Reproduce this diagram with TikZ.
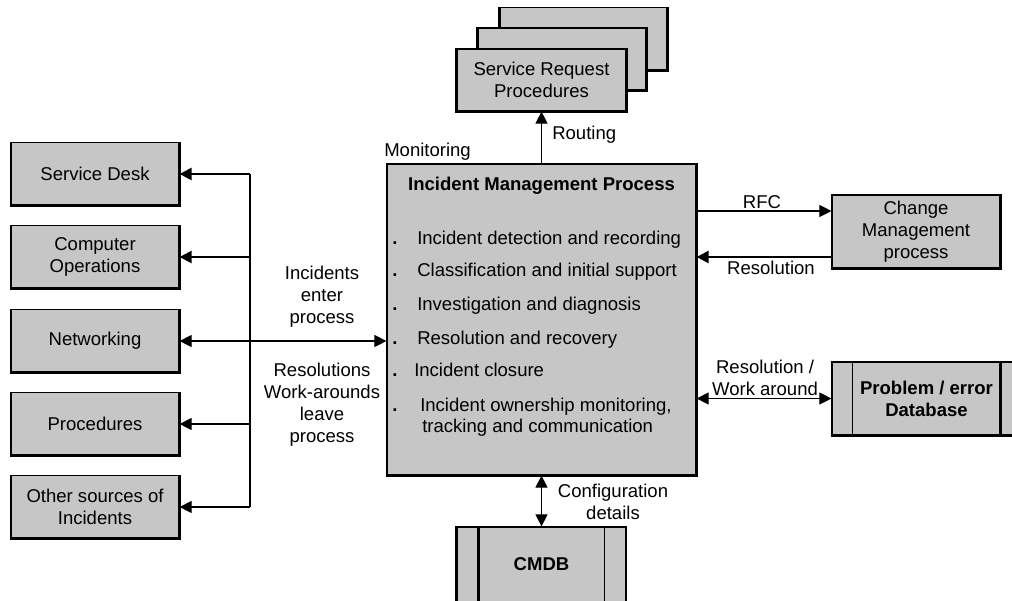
\documentclass[tikz,border=0pt]{standalone}
\usepackage{fontspec}
\setmainfont{Liberation Sans}
\usetikzlibrary{arrows.meta,calc}
\definecolor{boxgray}{RGB}{198,198,198}
\newcommand{\rbedge}[1]{\draw[edge] (#1.north east) -- (#1.south east) -- (#1.south west);}
\newcommand{\lbedge}[1]{\draw[edge] (#1.north west) -- (#1.south west) -- (#1.south east) -- (#1.north east);}
\begin{document}
\begin{tikzpicture}[x=0.75pt,y=-0.75pt,
  every node/.style={font=\fontsize{13.9}{16.5}\selectfont, inner sep=0pt},
  gbox/.style={draw, fill=boxgray, line width=0.9pt, align=center},
  edge/.style={line width=2.2pt},
  lbl/.style={align=center},
  itm/.style={anchor=west, text height=10pt, text depth=3pt},
  conn/.style={line width=0.8pt},
  bold/.style={line width=1.8pt},
  tip/.style={-{Triangle[length=9pt,width=9pt]}},
  dtip/.style={{Triangle[length=9pt,width=9pt]}-{Triangle[length=9pt,width=9pt]}}
]
\useasboundingbox (0,0) rectangle (1012,600);
\clip (0,0) rectangle (1012,600);

% left boxes
\node[gbox, minimum width=126pt, minimum height=47pt] (sd) at (95,174) {Service Desk};
\node[gbox, minimum width=126pt, minimum height=47pt] (co) at (95,257) {Computer\\Operations};
\node[gbox, minimum width=126pt, minimum height=47pt] (net) at (95,341) {Networking};
\node[gbox, minimum width=126pt, minimum height=47pt] (proc) at (95,424) {Procedures};
\node[gbox, minimum width=126pt, minimum height=47pt] (oth) at (95,507) {Other sources of\\Incidents};
\foreach \n in {sd,co,net,proc,oth} {\rbedge{\n}}

% service request stack
\node[gbox, minimum width=125pt, minimum height=47pt] (srp3) at (583.5,38.5) {};
\lbedge{srp3}
\node[gbox, minimum width=126pt, minimum height=46.5pt] (srp2) at (562,59) {};
\lbedge{srp2}
\node[gbox, minimum width=126.75pt, minimum height=46.5pt] (srp1) at (541.5,80) {Service Request\\Procedures};
\lbedge{srp1}

% main box
\node[gbox, minimum width=231.75pt, minimum height=233.25pt] (main) at (541.5,319.5) {};
\rbedge{main}
\node (title) at (541.5,186) {\bfseries Incident Management Process};
\foreach \y/\xx/\t [count=\i] in {
  240/417/{Incident detection and recording},
  272/417/{Classification and initial support},
  306/417/{Investigation and diagnosis},
  340/417/{Resolution and recovery},
  372/414/{Incident closure},
  407/420/{Incident ownership monitoring,}}{
  \node[itm] (b\i) at (392,\y) {\bfseries .};
  \node[itm] (t\i) at (\xx,\y) {\t};
}
\node[itm] (t7) at (422,428) {tracking and communication};

% change management
\node[gbox, minimum width=126pt, minimum height=54.75pt] (cm) at (916,231.5) {Change\\Management\\process};
\rbedge{cm}

% problem database
\node[gbox, minimum width=141.75pt, minimum height=54.75pt] (pdb) at (926.5,398.5) {\bfseries Problem / error\\\bfseries Database};
\rbedge{pdb}
\draw[line width=1.2pt] ($(pdb.north west)+(21,0)$) -- ($(pdb.south west)+(21,0)$);
\draw[edge] ($(pdb.north east)+(-21,0)$) -- ($(pdb.south east)+(-21,0)$);

% CMDB
\node[gbox, minimum width=126.75pt, minimum height=56.25pt] (cmdb) at (541.5,564.5) {\bfseries CMDB};
\draw[edge] ($(cmdb.north west)+(22,0)$) -- ($(cmdb.south west)+(22,0)$);
\draw[line width=1.1pt] ($(cmdb.north east)+(-22,0)$) -- ($(cmdb.south east)+(-22,0)$);
\draw[edge] (cmdb.north west) -- (cmdb.south west);

% bus on the left
\coordinate (bus) at (250,0);
\draw[conn] (sd.east -| bus) -- (oth.east -| bus);
\draw[bold, tip] (sd.east -| bus) -- (sd.east);
\draw[bold, tip] (co.east -| bus) -- (co.east);
\draw[conn, tip] (proc.east -| bus) -- (proc.east);
\draw[conn, tip] (oth.east -| bus) -- (oth.east);
\draw[conn, dtip] (net.east) -- (net.east -| main.west);

\node[lbl] (enter) at (322,297) {Incidents\\enter\\process};
\node[lbl] (leave) at (322,405) {Resolutions\\Work-arounds\\leave\\process};

% top
\draw[conn, tip] (main.north) -- (srp1.south);
\node[anchor=west] (routing) at (552,135) {Routing};
\node[anchor=west] (monitor) at (384,152) {Monitoring};

% right side
\coordinate (yrfc) at (0,211);
\coordinate (yres) at (0,257);
\draw[conn, tip] (main.east |- yrfc) -- (cm.west |- yrfc);
\draw[bold, tip] (cm.west |- yres) -- (main.east |- yres);
\node (rfc) at (762,202) {RFC};
\node (res) at (771,268) {Resolution};

\draw[conn, dtip] (pdb.west -| main.east) -- (pdb.west);
\node[lbl] (rwa) at (765,378) {Resolution /\\Work around};

% bottom
\draw[conn, dtip] (main.south) -- (cmdb.north);
\node[lbl] (cfg) at (613,502) {Configuration\\details};
\end{tikzpicture}
\end{document}
